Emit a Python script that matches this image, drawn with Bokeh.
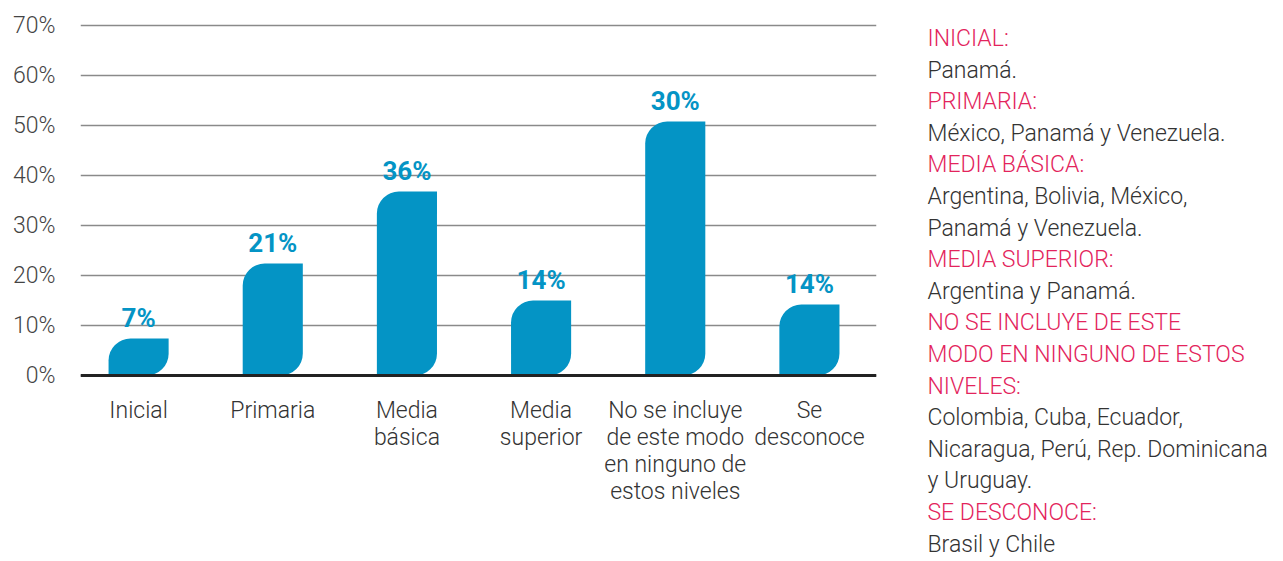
from bokeh.plotting import figure
from bokeh.layouts import row
from bokeh.models import Range1d, FixedTicker, Span, ColumnDataSource
from bokeh.core.properties import value
from bokeh.embed import file_html
from bokeh.resources import INLINE

# ---- data ----
categories = ["Inicial", "Primaria", "Media\nbásica", "Media\nsuperior",
              "No se incluye\nde este modo\nen ninguno de\nestos niveles", "Se\ndesconoce"]
bar_heights = [7.4, 22.4, 36.8, 15.0, 50.8, 14.2]   # drawn height (% of axis)
bar_labels = ["7%", "21%", "36%", "14%", "30%", "14%"]
y_ticks = [0, 10, 20, 30, 40, 50, 60, 70]

legend_lines = [
    ("INICIAL:", "h"), ("Panamá.", "b"),
    ("PRIMARIA:", "h"), ("México, Panamá y Venezuela.", "b"),
    ("MEDIA BÁSICA:", "h"), ("Argentina, Bolivia, México,", "b"), ("Panamá y Venezuela.", "b"),
    ("MEDIA SUPERIOR:", "h"), ("Argentina y Panamá.", "b"),
    ("NO SE INCLUYE DE ESTE", "h"), ("MODO EN NINGUNO DE ESTOS", "h"), ("NIVELES:", "h"),
    ("Colombia, Cuba, Ecuador,", "b"), ("Nicaragua, Perú, Rep. Dominicana", "b"), ("y Uruguay.", "b"),
    ("SE DESCONOCE:", "h"), ("Brasil y Chile", "b"),
]

LIGHT = "Roboto Light"
BOLD = "Roboto"
BLUE = "#0494C5"
PINK = "#E3245C"
H = 558

xs = list(range(len(categories)))
src = ColumnDataSource(dict(x=xs, top=bar_heights, lab=bar_labels))

p = figure(width=898, height=H, output_backend="svg", toolbar_location=None,
           x_range=Range1d(-0.433, 5.5), y_range=Range1d(-0.6, 72),
           frame_width=796, frame_height=363,
           min_border_left=80, min_border_right=22, min_border_top=15, min_border_bottom=0)
p.outline_line_color = None
p.background_fill_color = "white"

p.vbar(x="x", top="top", bottom=0, width=0.448, source=src, fill_color=BLUE,
       line_color=None, border_radius=(22, 0, 22, 0))
p.text(x="x", y="top", text="lab", source=src, text_font=value(BOLD), text_font_size="26px",
       text_font_style="bold", text_color=BLUE, text_align="center",
       text_baseline="bottom", y_offset=-6)

p.add_layout(Span(location=0, dimension="width", line_color="#222222", line_width=3))

# y axis
p.yaxis.ticker = FixedTicker(ticks=y_ticks)
p.yaxis.major_label_overrides = {t: f"{t}%" for t in y_ticks}
p.yaxis.axis_line_color = None
p.yaxis.major_tick_line_color = None
p.yaxis.minor_tick_line_color = None
p.yaxis.major_label_text_font = LIGHT
p.yaxis.major_label_text_font_size = "23px"
p.yaxis.major_label_text_color = "#444444"
p.yaxis.major_label_standoff = 19
p.ygrid.ticker = FixedTicker(ticks=y_ticks)
p.ygrid.grid_line_color = "#8a8a8a"
p.ygrid.grid_line_width = 1.3

# x axis
p.xaxis.ticker = FixedTicker(ticks=xs)
p.xaxis.major_label_overrides = {i: c for i, c in zip(xs, categories)}
p.xaxis.axis_line_color = None
p.xaxis.major_tick_line_color = None
p.xaxis.minor_tick_line_color = None
p.xaxis.major_label_text_font = LIGHT
p.xaxis.major_label_text_font_size = "23px"
p.xaxis.major_label_text_color = "#333333"
p.xaxis.major_label_standoff = 12
p.xaxis.major_label_text_line_height = 1.0
p.xgrid.grid_line_color = None

# ---- right-hand text panel ----
LINE = 31.6
TOP = 15
q = figure(width=377, height=H, frame_width=377, frame_height=H - TOP,
           output_backend="svg", toolbar_location=None,
           x_range=Range1d(0, 377), y_range=Range1d(H, TOP),
           min_border=0, min_border_left=0, min_border_right=0,
           min_border_top=TOP, min_border_bottom=0)
q.axis.visible = False
q.grid.grid_line_color = None
q.outline_line_color = None
lsrc = ColumnDataSource(dict(
    x=[29] * len(legend_lines),
    y=[38 + i * LINE for i in range(len(legend_lines))],
    t=[l[0] for l in legend_lines],
    c=[PINK if l[1] == "h" else "#333333" for l in legend_lines],
))
q.text(x="x", y="y", text="t", text_color="c", source=lsrc, text_font=value(LIGHT),
       text_font_size="23px", text_baseline="middle", text_align="left")

layout = row(p, q)
open("out.html", "w").write(file_html(layout, INLINE))
